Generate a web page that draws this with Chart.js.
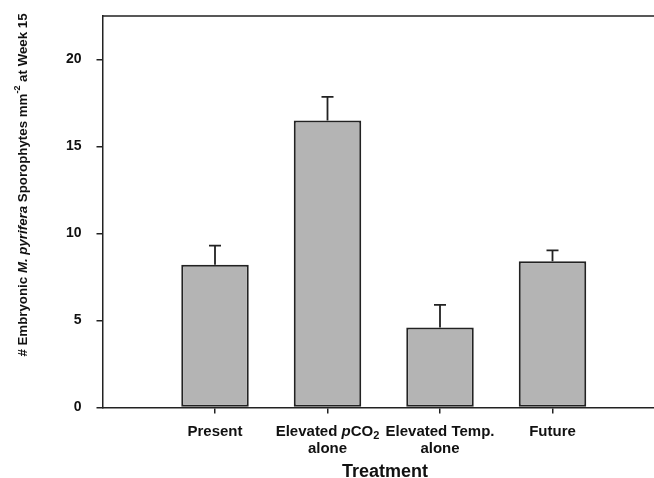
<!DOCTYPE html>
<html>
<head>
<meta charset="utf-8">
<script src="https://cdn.jsdelivr.net/npm/chart.js@4/dist/chart.umd.min.js"></script>
<style>
  html, body { margin: 0; padding: 0; background: #fff; }
  #wrap { width: 654px; height: 478px; overflow: hidden; position: relative; }
  #box { width: 680px; height: 478px; }
</style>
</head>
<body>
<div id="wrap"><div id="box"><canvas id="c"></canvas></div></div>
<script>
// ---- data ----
const categories = ['Present', 'Elevated pCO2 alone', 'Elevated Temp. alone', 'Future'];
const means = [8.2, 16.5, 4.6, 8.4];
const errors = [1.1, 1.35, 1.3, 0.63];
const yTicks = [0, 5, 10, 15, 20];
const yMax = 22.5;
const xTitle = 'Treatment';

// rich label definitions (text segments with style flags)
const tickLabelLines = [
  [[{t: 'Present'}]],
  [[{t: 'Elevated '}, {t: 'p', italic: true}, {t: 'CO'}, {t: '2', sub: true}], [{t: 'alone'}]],
  [[{t: 'Elevated Temp.'}], [{t: 'alone'}]],
  [[{t: 'Future'}]]
];
const yTitleSegs = [
  {t: '# Embryonic '}, {t: 'M. pyrifera', italic: true}, {t: ' Sporophytes mm'},
  {t: '-2', sup: true}, {t: ' at Week 15'}
];

const FAM = '"Liberation Sans", Arial, Helvetica, sans-serif';
const INK = '#222222';

function segFont(s, size, weight) {
  const sz = (s.sub || s.sup) ? Math.round(size * 0.7) : size;
  return (s.italic ? 'italic ' : '') + weight + ' ' + sz + 'px ' + FAM;
}
function drawRich(ctx, segs, cx, cy, size, weight) {
  let total = 0;
  segs.forEach(s => { ctx.font = segFont(s, size, weight); total += ctx.measureText(s.t).width; });
  let x = cx - total / 2;
  ctx.textAlign = 'left';
  ctx.textBaseline = 'middle';
  segs.forEach(s => {
    ctx.font = segFont(s, size, weight);
    let dy = 0;
    if (s.sub) dy = size * 0.3;
    if (s.sup) dy = -size * 0.4;
    ctx.fillText(s.t, x, cy + dy);
    x += ctx.measureText(s.t).width;
  });
}

const decor = {
  id: 'decor',
  afterDatasetsDraw(chart) {
    const ctx = chart.ctx;
    const xs = chart.scales.x, ys = chart.scales.y;
    const a = chart.chartArea;
    ctx.save();
    ctx.strokeStyle = INK;
    ctx.lineWidth = 1.5;
    ctx.beginPath();
    ctx.moveTo(a.left, a.top);
    ctx.lineTo(a.right, a.top);
    ctx.lineTo(a.right, a.bottom);
    ctx.stroke();
    ctx.lineWidth = 1.8;
    means.forEach((m, i) => {
      const x = xs.getPixelForValue(i + 1);
      const y0 = ys.getPixelForValue(m);
      const y1 = ys.getPixelForValue(m + errors[i]);
      ctx.beginPath();
      ctx.moveTo(x, y0);
      ctx.lineTo(x, y1);
      ctx.moveTo(x - 6, y1);
      ctx.lineTo(x + 6, y1);
      ctx.stroke();
    });
    ctx.restore();
  },
  afterDraw(chart) {
    const ctx = chart.ctx;
    const xs = chart.scales.x;
    const a = chart.chartArea;
    ctx.save();
    ctx.fillStyle = '#111';
    tickLabelLines.forEach((lines, i) => {
      const x = xs.getPixelForValue(i + 1);
      lines.forEach((segs, li) => {
        drawRich(ctx, segs, x, a.bottom + 24 + li * 17, 15, 'bold');
      });
    });
    ctx.font = 'bold 18px ' + FAM;
    ctx.textAlign = 'center';
    ctx.textBaseline = 'middle';
    ctx.fillText(xTitle, 385, a.bottom + 65);
    ctx.translate(23, 185);
    ctx.rotate(-Math.PI / 2);
    drawRich(ctx, yTitleSegs, 0, 0, 13.3, 'bold');
    ctx.restore();
  }
};

new Chart(document.getElementById('c'), {
  type: 'bar',
  data: {
    datasets: [{
      data: means.map((v, i) => ({x: i + 1, y: v})),
      backgroundColor: '#b4b4b4',
      borderColor: INK,
      borderWidth: 2,
      borderSkipped: false,
      barPercentage: 0.6,
      categoryPercentage: 1.0
    }]
  },
  options: {
    responsive: true,
    maintainAspectRatio: false,
    animation: false,
    layout: { padding: { left: 0, top: 16, right: 15, bottom: 0 } },
    plugins: { legend: { display: false }, tooltip: { enabled: false } },
    scales: {
      x: {
        type: 'linear',
        min: 0,
        max: 5,
        offset: false,
        afterBuildTicks(scale) { scale.ticks = categories.map((c, i) => ({value: i + 1})); },
        afterFit(scale) { scale.height = 70.5; scale.paddingLeft = 0; scale.paddingRight = 0; },
        ticks: { callback: () => '', font: { size: 1 } },
        grid: { offset: false, drawOnChartArea: false, tickLength: 6, color: INK, lineWidth: 1.5 },
        border: { display: true, color: INK, width: 1.5 }
      },
      y: {
        min: 0,
        max: yMax,
        afterBuildTicks(scale) { scale.ticks = yTicks.map(v => ({value: v})); },
        afterFit(scale) { scale.width = 102.5; scale.paddingTop = 0; scale.paddingBottom = 0; },
        ticks: { color: '#111', padding: 15, font: { family: FAM, size: 14, weight: 'bold' } },
        grid: { drawOnChartArea: false, tickLength: 6, color: INK, lineWidth: 1.5 },
        border: { display: true, color: INK, width: 1.5 }
      }
    }
  },
  plugins: [decor]
});
</script>
</body>
</html>
